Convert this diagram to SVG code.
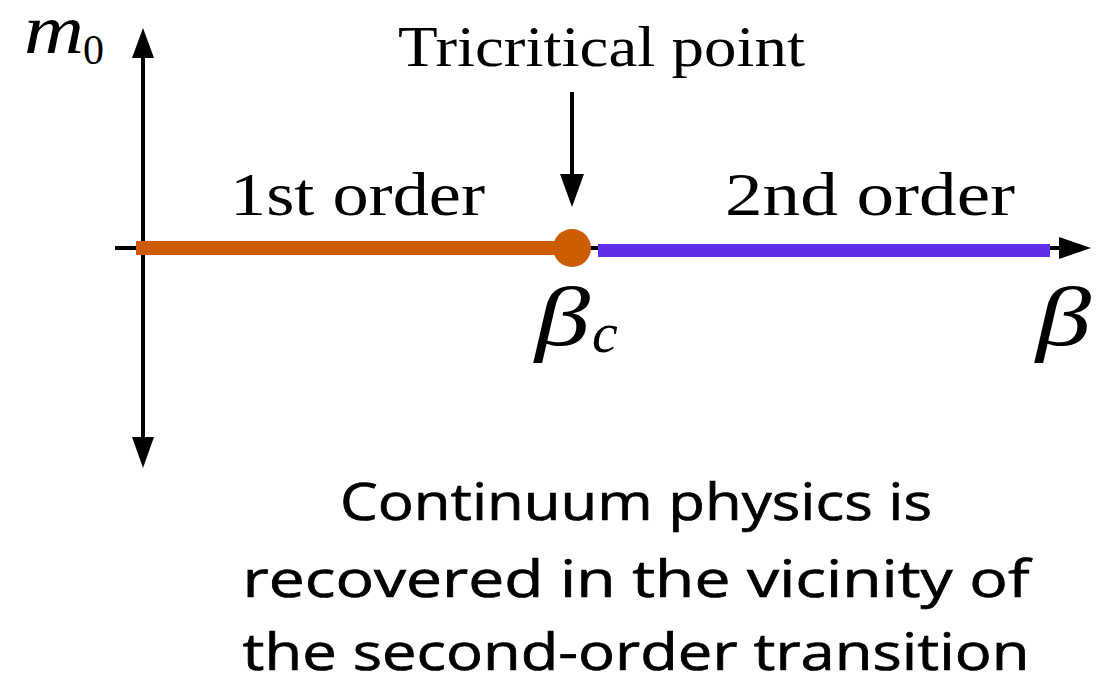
<svg xmlns="http://www.w3.org/2000/svg" width="1113" height="684" viewBox="0 0 1113 684">
<style>
.ax{stroke:#000;stroke-width:4;fill:none}
.hd{fill:#000}
.rm{font-family:"Liberation Serif","DejaVu Serif",serif;fill:#000}
.it{font-family:"Liberation Serif","DejaVu Serif",serif;font-style:italic;fill:#000}
.cm{font-family:"Comic Sans MS","Open Sans","DejaVu Sans",sans-serif;fill:#000;stroke:#000;stroke-width:0.7;font-size:52px;text-anchor:middle}
</style>
<rect width="1113" height="684" fill="#fff"/>
<g id="connectors">
<line class="ax" x1="143" y1="52" x2="143" y2="445"/>
<polygon class="hd" points="143,28 132,58 154,58"/>
<polygon class="hd" points="143,468 132,437 154,437"/>
<line class="ax" x1="115" y1="248" x2="1062" y2="248"/>
<polygon class="hd" points="1091,248 1059,237 1059,259"/>
<line class="ax" x1="572" y1="92" x2="572" y2="180"/>
<polygon class="hd" points="572,207 560,174 584,174"/>
</g>
<g id="first-order">
<rect x="136" y="241" width="430" height="14" fill="#CC5C00"/>
<text class="rm" x="230" y="215" font-size="62" textLength="255" lengthAdjust="spacingAndGlyphs">1st order</text>
</g>
<g id="second-order">
<rect x="598" y="244" width="452" height="13" fill="#6030E6"/>
<text class="rm" x="725" y="215" font-size="62" textLength="290" lengthAdjust="spacingAndGlyphs">2nd order</text>
</g>
<g id="tricritical">
<circle cx="572" cy="248" r="19" fill="#CC5C00"/>
<text class="rm" x="398" y="66" font-size="56" textLength="407" lengthAdjust="spacingAndGlyphs">Tricritical point</text>
</g>
<g id="labels">
<text class="it" x="24" y="53" font-size="70" textLength="60" lengthAdjust="spacingAndGlyphs">m</text>
<text class="rm" x="83" y="64" font-size="42">0</text>
<text class="it" x="535" y="345" font-size="84" textLength="55" lengthAdjust="spacingAndGlyphs">β</text>
<text class="it" x="592" y="352" font-size="58">c</text>
<text class="it" x="1036" y="345" font-size="84" textLength="55" lengthAdjust="spacingAndGlyphs">β</text>
</g>
<g id="note">
<text class="cm" x="636" y="520" textLength="592" lengthAdjust="spacingAndGlyphs">Continuum physics is</text>
<text class="cm" x="636" y="597" textLength="787" lengthAdjust="spacingAndGlyphs">recovered in the vicinity of</text>
<text class="cm" x="636" y="670" textLength="787" lengthAdjust="spacingAndGlyphs">the second-order transition</text>
</g>
</svg>
